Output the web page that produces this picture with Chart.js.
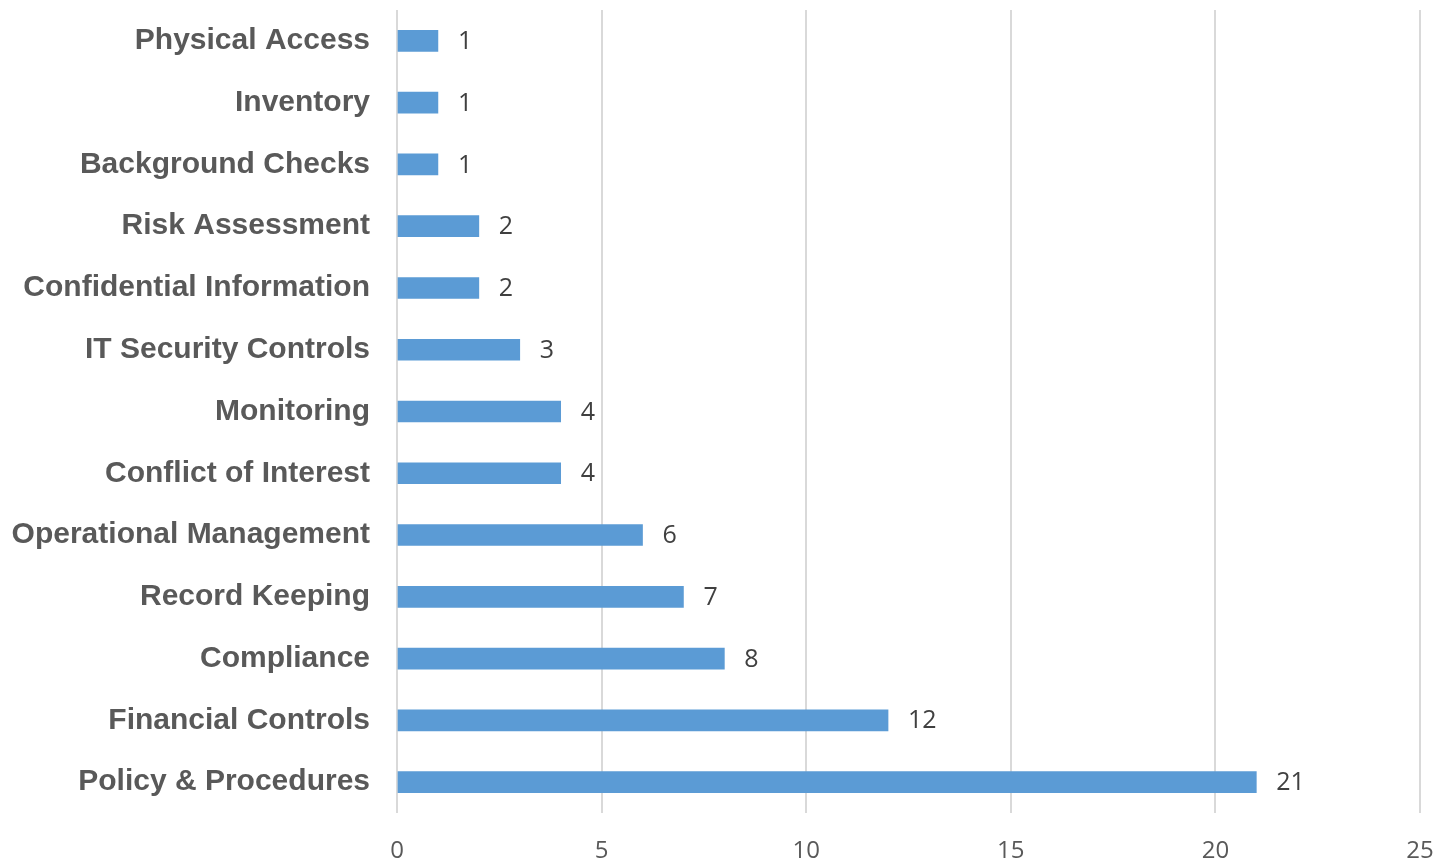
<!DOCTYPE html>
<html>
<head>
<meta charset="utf-8">
<script src="https://cdn.jsdelivr.net/npm/chart.js@4"></script>
<style>
  html, body { margin: 0; padding: 0; background: #fff; }
  #wrap { width: 1433px; height: 864px; }
</style>
</head>
<body>
<div id="wrap"><canvas id="bars"></canvas></div>
<script>
var categories = [
  "Physical Access",
  "Inventory",
  "Background Checks",
  "Risk Assessment",
  "Confidential Information",
  "IT Security Controls",
  "Monitoring",
  "Conflict of Interest",
  "Operational Management",
  "Record Keeping",
  "Compliance",
  "Financial Controls",
  "Policy & Procedures"
];
var counts = [1, 1, 1, 2, 2, 3, 4, 4, 6, 7, 8, 12, 21];
var xTicks = [0, 5, 10, 15, 20, 25];

// draws the number just past the end of each bar
var valueLabels = {
  id: "valueLabels",
  afterDatasetsDraw: function (chart) {
    var ctx = chart.ctx;
    var meta = chart.getDatasetMeta(0);
    ctx.save();
    ctx.font = "25px 'Open Sans'";
    ctx.fillStyle = "#404040";
    ctx.textAlign = "left";
    ctx.textBaseline = "middle";
    meta.data.forEach(function (bar, i) {
      ctx.fillText(String(counts[i]), bar.x + 20, bar.y + 1);
    });
    ctx.restore();
  }
};

var ctx = document.getElementById("bars");

new Chart(ctx, {
  type: "bar",
  data: {
    labels: categories,
    datasets: [
      {
        label: "Count",
        data: counts,
        backgroundColor: "#5B9BD5",
        borderWidth: 0,
        barThickness: 21
      }
    ]
  },
  plugins: [valueLabels],
  options: {
    indexAxis: "y",
    responsive: true,
    maintainAspectRatio: false,
    animation: false,
    layout: { padding: { top: 10, right: 13, left: 0, bottom: 0 } },
    plugins: {
      legend: { display: false },
      tooltip: { enabled: false }
    },
    scales: {
      x: {
        min: 0,
        max: 25,
        afterBuildTicks: function (scale) {
          scale.ticks = xTicks.map(function (v) { return { value: v }; });
        },
        afterFit: function (scale) {
          scale.height = 51;
          scale.paddingLeft = 0;
          scale.paddingRight = 0;
        },
        grid: { color: "#d9d9d9", lineWidth: 2, drawTicks: false },
        border: { display: false },
        ticks: {
          padding: 24,
          color: "#595959",
          font: { family: "'Open Sans'", size: 24 }
        }
      },
      y: {
        afterFit: function (scale) {
          scale.width = 397;
          scale.paddingTop = 0;
          scale.paddingBottom = 0;
        },
        grid: { display: false, drawTicks: false },
        border: { display: false },
        ticks: {
          padding: 27,
          color: "#595959",
          font: { family: "'Liberation Sans', Arial", size: 30, weight: "bold" }
        }
      }
    }
  }
});
</script>
</body>
</html>
